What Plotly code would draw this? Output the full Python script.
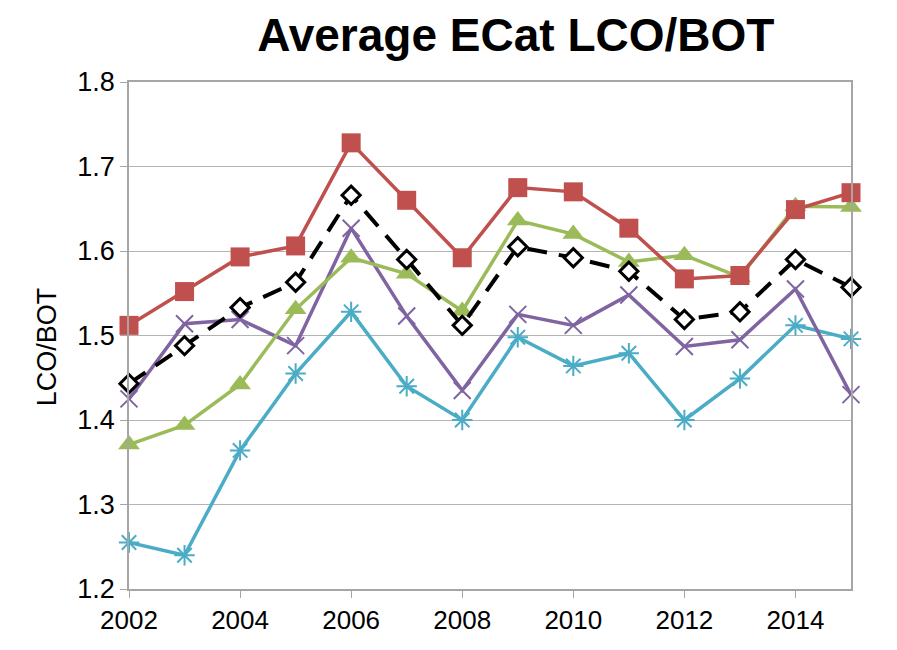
import plotly.graph_objects as go

# Years on the x axis
years = list(range(2002, 2016))
x_tick_vals = [2002, 2004, 2006, 2008, 2010, 2012, 2014]
y_tick_vals = [1.2, 1.3, 1.4, 1.5, 1.6, 1.7, 1.8]

# LCO/BOT averages per series
red_series = [1.512, 1.552, 1.593, 1.606, 1.728, 1.660, 1.592, 1.675, 1.670, 1.627, 1.567, 1.571, 1.649, 1.669]
black_series = [1.443, 1.488, 1.533, 1.563, 1.666, 1.590, 1.512, 1.605, 1.592, 1.576, 1.519, 1.528, 1.590, 1.557]
green_series = [1.371, 1.394, 1.442, 1.531, 1.592, 1.573, 1.529, 1.636, 1.620, 1.587, 1.595, 1.569, 1.653, 1.652]
purple_series = [1.425, 1.514, 1.519, 1.488, 1.627, 1.523, 1.435, 1.525, 1.512, 1.548, 1.487, 1.495, 1.555, 1.430]
cyan_series = [1.255, 1.240, 1.364, 1.455, 1.528, 1.440, 1.400, 1.498, 1.464, 1.479, 1.400, 1.449, 1.512, 1.496]

fig = go.Figure()

fig.add_trace(go.Scatter(
    x=years, y=cyan_series, mode="lines+markers", cliponaxis=False,
    line=dict(color="#4BACC6", width=3.5),
    marker=dict(symbol="asterisk-open", size=17, line=dict(color="#4BACC6", width=2)),
))
fig.add_trace(go.Scatter(
    x=years, y=purple_series, mode="lines+markers", cliponaxis=False,
    line=dict(color="#8064A2", width=3.5),
    marker=dict(symbol="x-thin-open", size=17, line=dict(color="#8064A2", width=2)),
))
fig.add_trace(go.Scatter(
    x=years, y=green_series, mode="lines+markers", cliponaxis=False,
    line=dict(color="#9BBB59", width=3.5),
    marker=dict(symbol="triangle-up", size=19, color="#9BBB59"),
))
fig.add_trace(go.Scatter(
    x=years, y=black_series, mode="lines+markers", cliponaxis=False,
    line=dict(color="black", width=4, dash="20px,12px"),
    marker=dict(symbol="diamond", size=14, color="white", line=dict(color="black", width=3)),
))
fig.add_trace(go.Scatter(
    x=years, y=red_series, mode="lines+markers", cliponaxis=False,
    line=dict(color="#C0504D", width=3.5),
    marker=dict(symbol="square", size=19, color="#C0504D"),
))

fig.update_layout(
    width=897, height=650,
    margin=dict(l=129, r=46, t=82, b=61),
    paper_bgcolor="white", plot_bgcolor="white",
    showlegend=False,
    font=dict(family="Liberation Sans, Arial, sans-serif", color="black"),
    title=dict(
        text="<b>Average ECat LCO/BOT</b>",
        font=dict(size=46, color="black"),
        x=0.575, xanchor="center", xref="container",
        y=0.947, yanchor="middle", yref="container",
    ),
    annotations=[dict(
        text="LCO/BOT", textangle=-90,
        xref="paper", yref="paper", x=-82 / 722, y=0.477,
        xanchor="center", yanchor="middle", showarrow=False,
        font=dict(size=27, color="black"),
    )],
)

fig.update_xaxes(
    range=[2002, 2015], tickvals=x_tick_vals,
    showgrid=False, zeroline=False,
    showline=True, linecolor="#a6a6a6", linewidth=1.5, mirror=True,
    ticks="outside", ticklen=7, tickcolor="#a6a6a6",
    tickfont=dict(size=26, color="black"),
)
fig.update_yaxes(
    range=[1.2, 1.8], tickvals=y_tick_vals, tickformat=".1f",
    showgrid=True, gridcolor="#b3b3b3", gridwidth=1.2, zeroline=False,
    showline=True, linecolor="#a6a6a6", linewidth=1.5, mirror=True,
    ticks="outside", ticklen=7, tickcolor="#a6a6a6",
    tickfont=dict(size=27, color="black"),
)

fig.write_html("out.html")
